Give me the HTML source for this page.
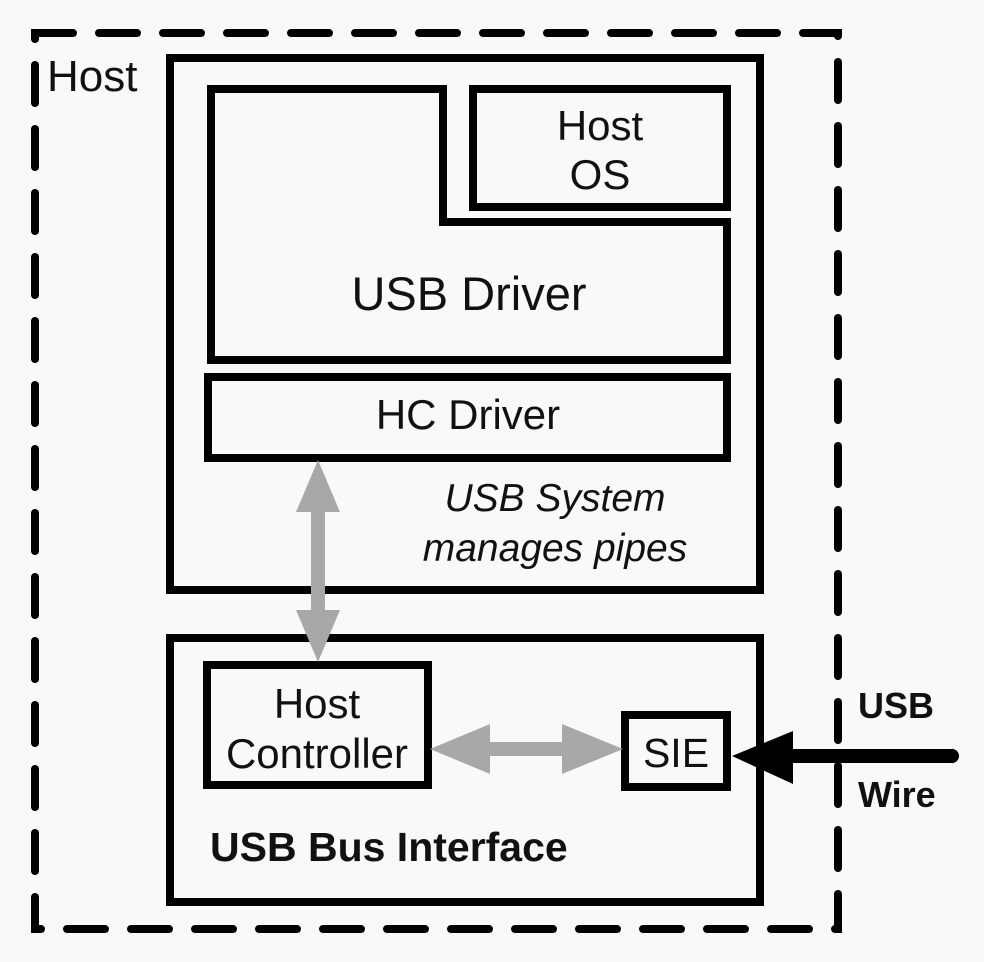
<!DOCTYPE html>
<html><head><style>body{margin:0;background:#f9f9f9}svg{display:block}</style></head><body>
<svg width="984" height="962" xmlns="http://www.w3.org/2000/svg" font-family="Liberation Sans, sans-serif">
<rect width="984" height="962" fill="#f9f9f9"/>
<rect x="35" y="33" width="803" height="896" fill="none" stroke="#000" stroke-width="8" stroke-dasharray="38 26" stroke-linecap="round"/>
<g fill="none" stroke="#000" stroke-width="8">
<rect x="170" y="58" width="590" height="532"/>
<path d="M211 89 H443 V222 H727 V360 H211 Z"/>
<rect x="473" y="89" width="254" height="118"/>
<rect x="208" y="377" width="519" height="81"/>
<rect x="170" y="638" width="590" height="264"/>
<rect x="207" y="665" width="221" height="120"/>
<rect x="625" y="715" width="102" height="72"/>
</g>
<polygon fill="#a8a8a8" points="318,460 340,512 325,512 325,610 340,610 318,662 296,610 311,610 311,512 296,512"/>
<polygon fill="#a8a8a8" points="430,749 490,724 490,742 562,742 562,724 623,749 562,774 562,756 490,756 490,774"/>
<polygon fill="#000" points="732,756 793,731 793,749 954,749 954,763 793,763 793,784"/>
<circle cx="952" cy="756" r="7"/>
<g fill="#111" text-anchor="middle">
<text x="47" y="91" font-size="44" text-anchor="start">Host</text>
<text x="600" y="140" font-size="42">Host</text>
<text x="600" y="189" font-size="42">OS</text>
<text x="469" y="310" font-size="47">USB Driver</text>
<text x="468" y="429" font-size="42">HC Driver</text>
<text x="555" y="511" font-size="39" font-style="italic">USB System</text>
<text x="555" y="561" font-size="39" font-style="italic">manages pipes</text>
<text x="317" y="718" font-size="42">Host</text>
<text x="317" y="768" font-size="42">Controller</text>
<text x="676" y="767" font-size="41">SIE</text>
<text x="210" y="861" font-size="41" font-weight="bold" text-anchor="start">USB Bus Interface</text>
<text x="858" y="718" font-size="36" font-weight="bold" text-anchor="start">USB</text>
<text x="858" y="807" font-size="36" font-weight="bold" text-anchor="start">Wire</text>
</g>
</svg>
</body></html>
